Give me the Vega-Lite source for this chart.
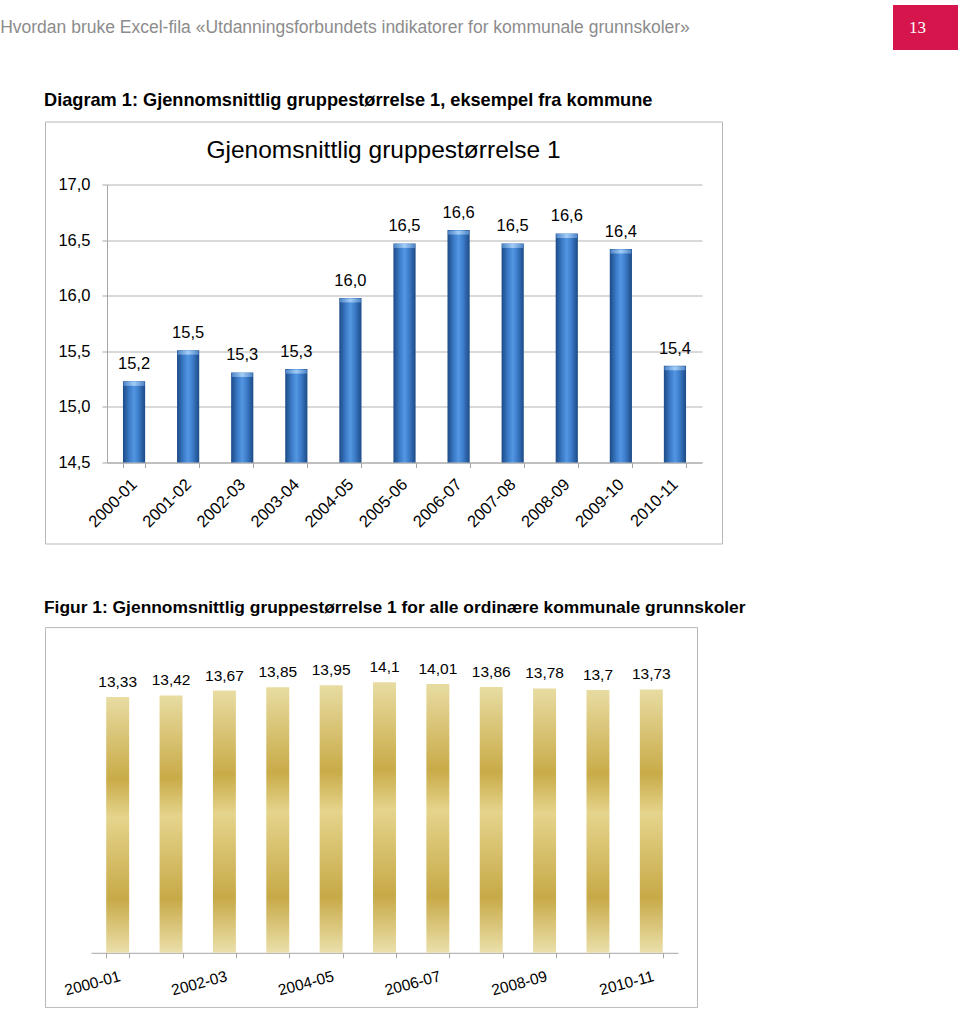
{
  "$schema": "https://vega.github.io/schema/vega-lite/v6.json",
  "padding": {"left": 0, "top": 5, "right": 0, "bottom": 0},
  "background": "white",
  "config": {
    "view": {"stroke": null},
    "font": "Liberation Sans",
    "locale": {"number": {"decimal": ",", "thousands": " ", "grouping": [3], "currency": ["", " kr"]}},
    "axis": {"labelFont": "Liberation Sans", "labelColor": "#000000", "labelFontSize": 16, "domainColor": "#a6a6a6", "tickColor": "#a6a6a6", "gridColor": "#b3b3b3"},
    "title": {"font": "Liberation Sans", "fontSize": 17.5, "fontWeight": "bold", "color": "#000000", "anchor": "start", "frame": "group"}
  },
  "spacing": 40.5,
  "vconcat": [
    {
      "spacing": 203,
      "hconcat": [
        {
          "width": 690, "height": 45,
          "data": {"values": [{"t": "Hvordan bruke Excel-fila «Utdanningsforbundets indikatorer for kommunale grunnskoler»"}]},
          "mark": {"type": "text", "font": "Liberation Sans", "fontSize": 17.5, "color": "#8c8c8c", "align": "center", "baseline": "middle"},
          "encoding": {"text": {"field": "t"}}
        },
        {
          "width": 65, "height": 45,
          "view": {"fill": "#d5154b", "stroke": null},
          "data": {"values": [{"p": "13"}]},
          "mark": {"type": "text", "font": "Liberation Serif", "fontSize": 17, "color": "#ffffff", "align": "center", "baseline": "middle", "dx": -8},
          "encoding": {"text": {"field": "p"}}
        }
      ]
    },
    {
      "spacing": 0,
      "hconcat": [
        {
          "width": 38, "height": 10,
          "data": {"values": [{"a": 1}]},
          "mark": {"type": "point", "opacity": 0},
          "encoding": {}
        },
        {
          "spacing": 53.6,
          "vconcat": [
            {
              "width": 677, "height": 422,
              "view": {"stroke": "#b8b8b8"},
              "title": {"text": "Diagram 1: Gjennomsnittlig gruppestørrelse 1, eksempel fra kommune", "offset": 11.3, "fontSize": 18.2, "dx": -1},
              "layer": [
                {
                  "data": {"values": [
                    {"yr": "2000-01", "v": 15.23},
                    {"yr": "2001-02", "v": 15.51},
                    {"yr": "2002-03", "v": 15.31},
                    {"yr": "2003-04", "v": 15.34},
                    {"yr": "2004-05", "v": 15.98},
                    {"yr": "2005-06", "v": 16.47},
                    {"yr": "2006-07", "v": 16.59},
                    {"yr": "2007-08", "v": 16.47},
                    {"yr": "2008-09", "v": 16.56},
                    {"yr": "2009-10", "v": 16.42},
                    {"yr": "2010-11", "v": 15.37}
                  ]},
                  "encoding": {
                    "x": {"field": "yr", "type": "nominal", "sort": null,
                      "scale": {"range": [62, 657], "paddingInner": 0.59, "paddingOuter": 0.295},
                      "axis": {"title": null, "labelAngle": -45, "labelAlign": "right", "labelBaseline": "middle", "labelPadding": 14, "labelFontSize": 16.5, "tickBand": "extent", "tickSize": 5, "offset": -81, "grid": false, "labelOverlap": false}},
                    "y": {"field": "v", "type": "quantitative",
                      "scale": {"domain": [14.5, 17], "range": [341, 63], "zero": false, "nice": false},
                      "axis": {"title": null, "values": [14.5, 15, 15.5, 16, 16.5, 17], "format": ".1f", "offset": -62, "grid": true, "tickSize": 5, "labelPadding": 12, "labelFontSize": 16.5}}
                  },
                  "layer": [
                    {
                      "mark": {"type": "bar", "color": {"gradient": "linear", "x1": 0, "y1": 0, "x2": 1, "y2": 0,
                        "stops": [
                          {"offset": 0, "color": "#1c4a86"},
                          {"offset": 0.3, "color": "#3d7dca"},
                          {"offset": 0.5, "color": "#5396e2"},
                          {"offset": 0.7, "color": "#3d7dca"},
                          {"offset": 1, "color": "#1c4a86"}
                        ]}},
                      "encoding": {"y2": {"datum": 14.5}}
                    },
                    {
                      "mark": {"type": "tick", "thickness": 4, "size": 21, "yOffset": 2.5, "opacity": 1, "color": {"gradient": "linear", "x1": 0, "y1": 0, "x2": 1, "y2": 0,
                        "stops": [
                          {"offset": 0, "color": "#4f86c8"},
                          {"offset": 0.5, "color": "#a3cdf7"},
                          {"offset": 1, "color": "#4f86c8"}
                        ]}}
                    },
                    {
                      "mark": {"type": "text", "baseline": "bottom", "dy": -9, "fontSize": 16.5, "color": "#000000"},
                      "encoding": {"text": {"field": "v", "type": "quantitative", "format": ".1f"}}
                    }
                  ]
                },
                {
                  "data": {"values": [{"t": "Gjenomsnittlig gruppestørrelse 1"}]},
                  "mark": {"type": "text", "fontSize": 24.5, "baseline": "middle", "align": "center", "color": "#000000"},
                  "encoding": {"y": {"datum": 17.3}, "text": {"field": "t"}}
                }
              ]
            },
            {
              "width": 652, "height": 380,
              "view": {"stroke": "#b8b8b8"},
              "title": {"text": "Figur 1: Gjennomsnittlig gruppestørrelse 1 for alle ordinære kommunale grunnskoler", "offset": 10.6, "fontSize": 17.4, "dx": -1},
              "data": {"values": [
                {"yr": "2000-01", "v": 13.33},
                {"yr": "2001-02", "v": 13.42},
                {"yr": "2002-03", "v": 13.67},
                {"yr": "2003-04", "v": 13.85},
                {"yr": "2004-05", "v": 13.95},
                {"yr": "2005-06", "v": 14.1},
                {"yr": "2006-07", "v": 14.01},
                {"yr": "2007-08", "v": 13.86},
                {"yr": "2008-09", "v": 13.78},
                {"yr": "2009-10", "v": 13.7},
                {"yr": "2010-11", "v": 13.73}
              ]},
              "encoding": {
                "x": {"field": "yr", "type": "nominal", "sort": null,
                  "scale": {"range": [46, 633], "paddingInner": 0.57, "paddingOuter": 0.285},
                  "axis": {"title": null, "labelAngle": -15, "labelAlign": "right", "labelBaseline": "top", "labelPadding": 11, "labelFontSize": 15.5, "tickBand": "extent", "tickSize": 5, "offset": -54.3, "grid": false, "labelOverlap": false,
                    "labelExpr": "indexof(['2000-01','2002-03','2004-05','2006-07','2008-09','2010-11'], datum.value) >= 0 ? datum.value : ''"}},
                "y": {"field": "v", "type": "quantitative",
                  "scale": {"domain": [0, 16], "range": [325.7, 18.8], "nice": false},
                  "axis": null}
              },
              "layer": [
                {
                  "mark": {"type": "bar", "color": {"gradient": "linear", "x1": 0, "y1": 0, "x2": 0, "y2": 1,
                    "stops": [
                      {"offset": 0, "color": "#e8dca2"},
                      {"offset": 0.32, "color": "#c9ab48"},
                      {"offset": 0.47, "color": "#e5d48c"},
                      {"offset": 0.79, "color": "#c7a947"},
                      {"offset": 1, "color": "#ebe0ab"}
                    ]}}
                },
                {
                  "mark": {"type": "text", "baseline": "bottom", "dy": -7, "fontSize": 15.5, "color": "#000000"},
                  "encoding": {"text": {"field": "v", "type": "quantitative", "format": ".4~g"}}
                }
              ]
            }
          ]
        }
      ]
    }
  ]
}
